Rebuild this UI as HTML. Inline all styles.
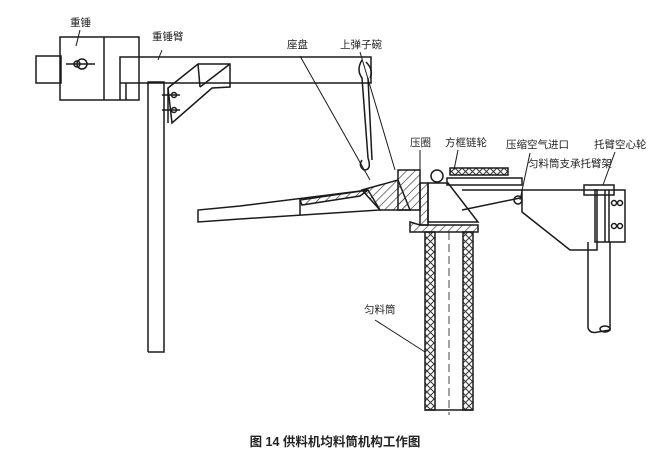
<!DOCTYPE html>
<html><head><meta charset="utf-8"><style>
html,body{margin:0;padding:0;background:#fff;}
svg{display:block;}
text{font-family:"Liberation Sans","Noto Sans CJK SC",sans-serif;fill:#222;}
</style></head><body>
<svg width="670" height="468" viewBox="0 0 670 468" xmlns="http://www.w3.org/2000/svg">
<defs>
<pattern id="x" width="7" height="7" patternUnits="userSpaceOnUse">
<path d="M0 0L7 7M7 0L0 7" stroke="#333" stroke-width="1"/></pattern>
<pattern id="h" width="6" height="6" patternUnits="userSpaceOnUse" patternTransform="rotate(45)">
<path d="M0 0V6" stroke="#333" stroke-width="1.3"/></pattern>
</defs>
<g fill="none" stroke="#1a1a1a" stroke-width="1.5">
<!-- weight -->
<rect x="36" y="56" width="25" height="27"/>
<rect x="60" y="37" width="79" height="63"/>
<line x1="104" y1="37" x2="104" y2="100"/>
<line x1="120" y1="83" x2="120" y2="100"/><line x1="126" y1="83" x2="126" y2="100"/>
<circle cx="82" cy="64" r="5"/><circle cx="77" cy="64" r="3"/>
<line x1="66" y1="64" x2="95" y2="64"/>
<!-- arm -->
<polyline points="120,83 120,57 371,57 371,83 120,83"/>
<!-- post -->
<polyline points="148,352 148,82 164,82 164,352 148,352"/>
<!-- bracket -->
<polygon points="168,88 198,64 230,64 230,87 212,88 172,123"/>
<line x1="198" y1="64" x2="200" y2="87"/><line x1="200" y1="87" x2="230" y2="64"/>
<line x1="168" y1="88" x2="168" y2="123"/>
<circle cx="174" cy="95" r="2.5"/><circle cx="174" cy="110" r="2.5"/>
<line x1="162" y1="95" x2="180" y2="95"/><line x1="162" y1="110" x2="180" y2="110"/>
<!-- hook -->
<path d="M362 60 Q356 70 362 78 L368 158 Q372 170 364 170 Q358 166 362 160"/>
<path d="M366 62 Q374 70 370 78"/>
<line x1="368" y1="78" x2="372" y2="160"/>
<!-- leader lines -->
<g stroke-width="1">
<line x1="80" y1="30" x2="76" y2="46"/>
<line x1="162" y1="50" x2="158" y2="60"/>
<line x1="300" y1="56" x2="370" y2="180"/>
<line x1="360" y1="52" x2="395" y2="170"/>
<line x1="420" y1="150" x2="420" y2="170"/>
<line x1="458" y1="150" x2="454" y2="170"/>
<line x1="530" y1="153" x2="520" y2="200"/>
<line x1="615" y1="152" x2="603" y2="185"/>
<line x1="375" y1="320" x2="425" y2="352"/>
</g>
<!-- lever tray -->
<polygon points="198,210 198,222 240,219 380,210 368,190 240,206"/>
<line x1="300" y1="200" x2="300" y2="215"/>
<polygon points="300,200 368,190 360,196 302,205" fill="url(#h)"/>
<polygon points="362,190 398,180 410,210 380,210" fill="url(#h)"/>
<rect x="398" y="170" width="22" height="40" fill="url(#h)"/>
<!-- cone assembly -->
<rect x="420" y="183" width="8" height="42" fill="url(#h)"/>
<polygon points="428,183 448,183 478,222 428,222"/>
<circle cx="437" cy="176" r="6"/>
<rect x="450" y="168" width="58" height="7" fill="url(#x)"/>
<rect x="447" y="178" width="75" height="7"/>
<line x1="462" y1="190" x2="522" y2="190"/>
<polyline points="462,210 520,198"/>
<polygon points="410,222 420,225 478,225 478,232 410,232" fill="url(#h)"/>
<!-- feed tube -->
<rect x="425" y="232" width="10" height="178" fill="url(#x)"/>
<rect x="463" y="232" width="10" height="178" fill="url(#x)"/>
<line x1="425" y1="410" x2="473" y2="410"/>
<line x1="449" y1="232" x2="449" y2="415" stroke-dasharray="8 4" stroke-width="0.8"/>
<!-- support arm -->
<polygon points="522,190 597,190 597,250 570,250 522,212"/>
<circle cx="518" cy="200" r="4"/>
<rect x="584" y="185" width="30" height="10"/>
<rect x="595" y="190" width="30" height="52"/>
<line x1="605" y1="190" x2="605" y2="242"/><line x1="609" y1="190" x2="609" y2="242"/>
<circle cx="614" cy="203" r="2.5"/><circle cx="620" cy="203" r="2.5"/>
<circle cx="614" cy="226" r="2.5"/><circle cx="620" cy="226" r="2.5"/>
<path d="M588 242 L588 328 Q590 334 598 332 L610 330 L610 242"/>
<ellipse cx="605" cy="329" rx="5" ry="3"/>
</g>
<g font-size="10.5">
<text x="70" y="26">重锤</text>
<text x="152" y="40">重锤臂</text>
<text x="287" y="48">座盘</text>
<text x="340" y="48">上弹子碗</text>
<text x="410" y="146">压圈</text>
<text x="445" y="146">方框链轮</text>
<text x="506" y="148">压缩空气进口</text>
<text x="528" y="167">匀料筒支承托臂架</text>
<text x="594" y="148">托臂空心轮</text>
<text x="364" y="313">匀料筒</text>
</g>
<text x="335" y="446" font-size="12.5" font-weight="bold" text-anchor="middle">图 14 供料机均料筒机构工作图</text>
</svg>
</body></html>
